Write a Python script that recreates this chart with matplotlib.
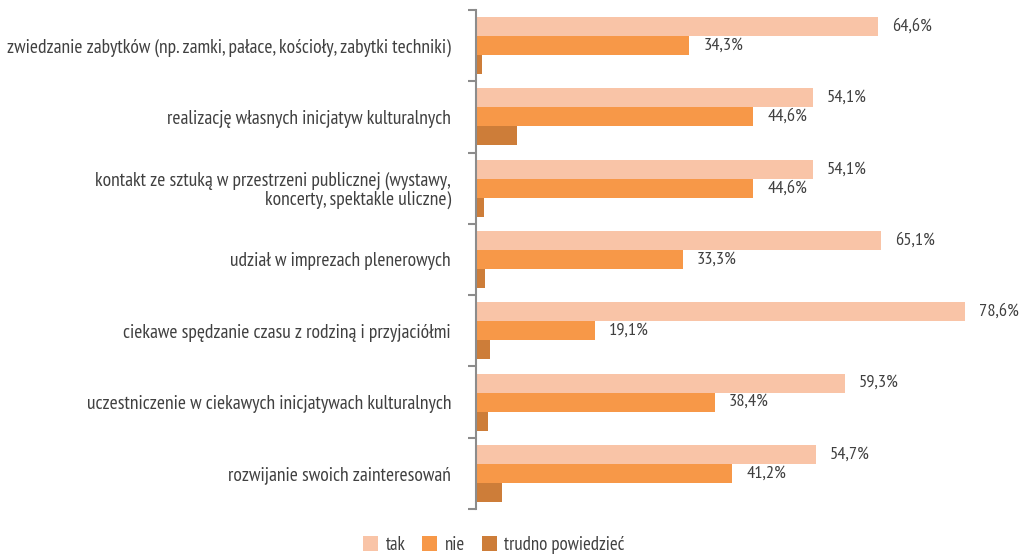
import matplotlib
matplotlib.use("Agg")
import matplotlib.pyplot as plt
from matplotlib import font_manager
from matplotlib.patches import Patch
import numpy as np

# --- data ---------------------------------------------------------
categories = [
    "zwiedzanie zabytków (np. zamki, pałace, kościoły, zabytki techniki)",
    "realizację własnych inicjatyw kulturalnych",
    "kontakt ze sztuką w przestrzeni publicznej (wystawy,\nkoncerty, spektakle uliczne)",
    "udział w imprezach plenerowych",
    "ciekawe spędzanie czasu z rodziną i przyjaciółmi",
    "uczestniczenie w ciekawych inicjatywach kulturalnych",
    "rozwijanie swoich zainteresowań",
]
tak = [64.6, 54.1, 54.1, 65.1, 78.6, 59.3, 54.7]
nie = [34.3, 44.6, 44.6, 33.3, 19.1, 38.4, 41.2]
trudno = [1.0, 6.6, 1.3, 1.5, 2.3, 2.0, 4.1]
series_names = ["tak", "nie", "trudno powiedzieć"]

COLORS = ["#F9C4A7", "#F79848", "#CD7D39"]
TEXT = "#404040"
AXIS = "#8C8C8C"

# narrow font, closest to the condensed original
names = {f.name for f in font_manager.fontManager.ttflist}
for fam in ["PT Sans Narrow", "Roboto Condensed", "Fira Sans Condensed", "DejaVu Sans"]:
    if fam in names:
        break
plt.rcParams["font.family"] = [fam, "DejaVu Sans"]
FS_CAT = 14
FS_VAL = 13.2
FS_LEG = 13.5

W, H = 1021, 557
fig = plt.figure(figsize=(W / 100, H / 100), dpi=100)
ax = fig.add_axes([476 / W, 1 - 509 / H, 497.6 / W, 499 / H])

y = np.arange(len(categories))
bh = 0.266
offsets = [-bh, 0, bh]
for vals, off, col in zip([tak, nie, trudno], offsets, COLORS):
    ax.barh(y + off, vals, height=bh, color=col, edgecolor="none")

# value labels for tak / nie
for vals, off in zip([tak, nie], offsets[:2]):
    for yi, v in zip(y, vals):
        ax.annotate(f"{v:.1f}".replace(".", ",") + "%", (v, yi + off),
                    xytext=(14, 0), textcoords="offset pixels",
                    ha="left", va="center", fontsize=FS_VAL, color=TEXT,
                    annotation_clip=False)

ax.set_xlim(0, 80)
ax.set_ylim(len(categories) - 0.5, -0.5)

for s in ["top", "right", "bottom"]:
    ax.spines[s].set_visible(False)
ax.spines["left"].set_color(AXIS)
ax.spines["left"].set_linewidth(1.5)

ax.set_xticks([])
ax.set_yticks(y)
ax.set_yticklabels(categories, fontsize=FS_CAT, color=TEXT, ha="right", linespacing=1.05)
ax.tick_params(axis="y", which="major", length=0, pad=18)
ax.set_yticks(np.arange(-0.5, len(categories), 1.0), minor=True)
ax.tick_params(axis="y", which="minor", length=5.5, width=1.5, color=AXIS)

handles = [Patch(facecolor=c, edgecolor="none") for c in COLORS]
fig.legend(handles, series_names, loc="center", bbox_to_anchor=(494 / W, 1 - 545 / H),
           ncol=3, frameon=False, fontsize=FS_LEG, labelcolor=TEXT,
           handlelength=0.8, handleheight=0.8, handletextpad=0.4, columnspacing=0.9)

fig.savefig("out.png", dpi=100)
